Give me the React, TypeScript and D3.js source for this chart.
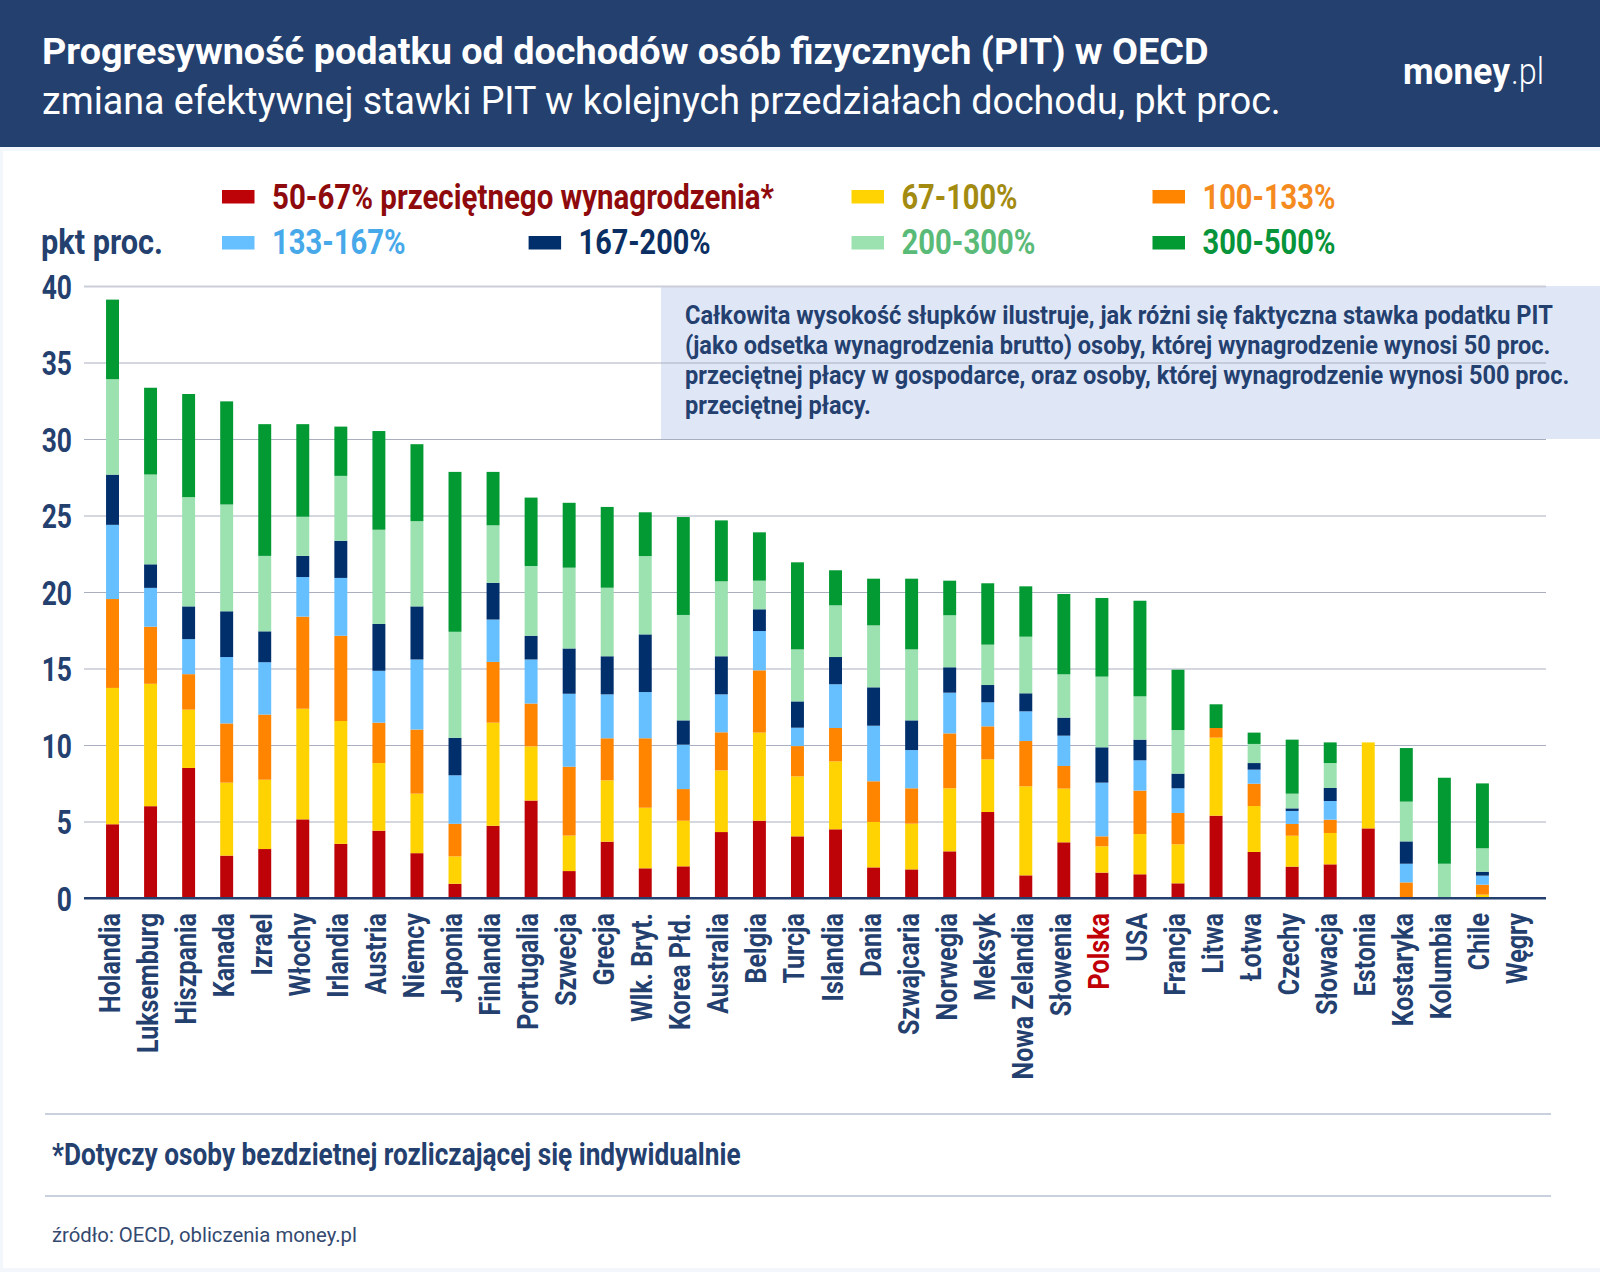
import React, { useRef, useEffect } from 'react';
import * as d3 from 'd3';

const kraje = [
  'Holandia', 'Luksemburg', 'Hiszpania', 'Kanada', 'Izrael', 'Włochy', 'Irlandia', 'Austria', 'Niemcy', 'Japonia',
  'Finlandia', 'Portugalia', 'Szwecja', 'Grecja', 'Wlk. Bryt.', 'Korea Płd.', 'Australia', 'Belgia', 'Turcja', 'Islandia',
  'Dania', 'Szwajcaria', 'Norwegia', 'Meksyk', 'Nowa Zelandia', 'Słowenia', 'Polska', 'USA', 'Francja', 'Litwa',
  'Łotwa', 'Czechy', 'Słowacja', 'Estonia', 'Kostaryka', 'Kolumbia', 'Chile', 'Węgry',
];

const s50_67 = [4.82, 6.0, 8.5, 2.77, 3.2, 5.14, 3.54, 4.4, 2.93, 0.93, 4.72, 6.37, 1.76, 3.68, 1.94, 2.07, 4.31, 5.05, 4.03, 4.49, 2.0, 1.87, 3.05, 5.62, 1.48, 3.64, 1.66, 1.55, 0.96, 5.38, 3.01, 2.05, 2.2, 4.55, 0, 0, 0, 0];
const s67_100 = [8.91, 8.0, 3.81, 4.77, 4.53, 7.23, 8.03, 4.42, 3.89, 1.79, 6.74, 3.54, 2.32, 4.01, 3.96, 2.98, 4.03, 5.76, 3.92, 4.44, 2.97, 2.99, 4.12, 3.44, 5.82, 3.51, 1.72, 2.63, 2.55, 5.1, 3.0, 2.02, 2.05, 5.62, 0, 0, 0.22, 0];
const s100_133 = [5.81, 3.73, 2.32, 3.87, 4.26, 6.02, 5.57, 2.64, 4.19, 2.13, 3.97, 2.8, 4.5, 2.75, 4.54, 2.07, 2.49, 4.07, 1.98, 2.18, 2.66, 2.31, 3.59, 2.16, 2.96, 1.48, 0.65, 2.84, 2.05, 0.63, 1.46, 0.77, 0.87, 0, 1.02, 0, 0.65, 0];
const s133_167 = [4.85, 2.54, 2.29, 4.34, 3.42, 2.59, 3.78, 3.39, 4.58, 3.17, 2.77, 2.88, 4.77, 2.87, 3.02, 2.9, 2.48, 2.57, 1.2, 2.86, 3.63, 2.5, 2.66, 1.57, 1.94, 1.98, 3.51, 1.98, 1.61, 0, 0.92, 0.85, 1.22, 0, 1.22, 0, 0.59, 0];
const s167_200 = [3.28, 1.54, 2.14, 2.99, 2.02, 1.38, 2.43, 3.06, 3.47, 2.45, 2.4, 1.55, 2.96, 2.49, 3.77, 1.59, 2.49, 1.42, 1.72, 1.78, 2.51, 1.94, 1.66, 1.13, 1.18, 1.18, 2.31, 1.35, 0.96, 0, 0.43, 0.17, 0.85, 0, 1.46, 0, 0.26, 0];
const s200_300 = [6.24, 5.87, 7.14, 6.98, 4.93, 2.56, 4.24, 6.16, 5.57, 6.93, 3.76, 4.56, 5.28, 4.48, 5.12, 6.89, 4.9, 1.87, 3.4, 3.38, 4.05, 4.64, 3.4, 2.64, 3.7, 2.83, 4.62, 2.83, 2.85, 0, 1.25, 0.96, 1.63, 0, 2.6, 2.24, 1.53, 0];
const s300_500 = [5.2, 5.67, 6.74, 6.74, 8.61, 6.05, 3.22, 6.45, 5.03, 10.45, 3.49, 4.47, 4.24, 5.28, 2.86, 6.4, 3.98, 3.16, 5.69, 2.29, 3.05, 4.62, 2.26, 4.01, 3.29, 5.25, 5.14, 6.25, 3.94, 1.55, 0.74, 3.53, 1.35, 0, 3.5, 5.62, 4.24, 0];

const serie = [s50_67, s67_100, s100_133, s133_167, s167_200, s200_300, s300_500];
const przedzialy = ['50-67% przeciętnego wynagrodzenia*', '67-100%', '100-133%', '133-167%', '167-200%', '200-300%', '300-500%'];
const kolory = ['#BD0308', '#FFD302', '#FF8500', '#66BFFF', '#002F6C', '#9CE1B0', '#039933'];
const koloryTekstu = ['#8E0A0C', '#A38B12', '#F58A1F', '#47A9EA', '#0B2F63', '#5ABA78', '#07943A'];
const ticki = [0, 5, 10, 15, 20, 25, 30, 35, 40];

const GRANAT = '#24406F';

type Sel = d3.Selection<SVGSVGElement, unknown, null, undefined>;

// Roboto Condensed nie jest dostępny, więc ściskamy zwykłe Roboto w poziomie do zadanej szerokości
const dodajTekst = (svg: Sel, x: number, y: number, tekst: string, size: number, weight: number, fill: string, szerokosc: number) => {
  const t = svg.append('text')
    .attr('fill', fill)
    .style('font-family', 'Roboto')
    .style('font-size', `${size}px`)
    .style('font-weight', weight)
    .text(tekst);
  const k = szerokosc / (t.node() as SVGTextElement).getComputedTextLength();
  t.attr('transform', `translate(${x},${y}) scale(${k},1)`);
};

const App: React.FC = () => {
  const svgRef = useRef<SVGSVGElement | null>(null);

  useEffect(() => {
    if (!svgRef.current) return;
    const svg = d3.select<SVGSVGElement, unknown>(svgRef.current);
    svg.selectAll('*').remove();

    const x = d3.scaleBand<string>().domain(kraje).range([85.5, 1547.5]).paddingInner(0.66).paddingOuter(0.54);
    const y = d3.scaleLinear().domain([0, 40]).range([898, 286]);

    svg.append('rect').attr('width', 1600).attr('height', 1272).attr('fill', '#F3F6FA');
    svg.append('rect').attr('x', 3).attr('y', 151).attr('width', 1597).attr('height', 1117).attr('fill', '#fff');
    svg.append('rect').attr('width', 1600).attr('height', 147).attr('fill', '#23406F');

    dodajTekst(svg, 42, 64, 'Progresywność podatku od dochodów osób fizycznych (PIT) w OECD', 37, 700, '#fff', 1167);
    dodajTekst(svg, 42, 114, 'zmiana efektywnej stawki PIT w kolejnych przedziałach dochodu, pkt proc.', 38, 400, '#fff', 1239);
    dodajTekst(svg, 1403, 84, 'money', 37, 700, '#fff', 107);
    dodajTekst(svg, 1511, 84, '.pl', 37, 300, '#fff', 33);

    // legenda w dwoch wierszach
    const legendaX = [222, 851.5, 1152.5, 222, 528.6, 851.5, 1152.5];
    const legendaW = [502, 116, 133, 133.6, 132, 134, 133];
    przedzialy.forEach((p, i) => {
      const wiersz = i < 3 ? 0 : 1;
      svg.append('rect')
        .attr('x', legendaX[i]).attr('y', 190 + wiersz * 46)
        .attr('width', 32.5).attr('height', 13.5)
        .attr('fill', kolory[i]);
      dodajTekst(svg, legendaX[i] + 50, 209 + wiersz * 45, p, 35, 700, koloryTekstu[i], legendaW[i]);
    });
    dodajTekst(svg, 41, 254, 'pkt proc.', 35, 700, GRANAT, 122);

    // ramka z opisem, siatka idzie po niej
    svg.append('rect').attr('x', 661).attr('y', 286).attr('width', 939).attr('height', 153).attr('fill', '#DFE7F7');

    const osY = svg.append('g')
      .attr('transform', 'translate(84,0)')
      .call(d3.axisLeft(y).tickValues(ticki).tickSize(-1462).tickPadding(0));
    osY.select('.domain').remove();
    osY.selectAll<SVGLineElement, number>('line')
      .attr('stroke', (d) => (d === 40 ? '#C9CEDA' : d === 0 ? GRANAT : '#A9AFBE'))
      .attr('stroke-width', (d) => (d === 40 || d === 0 ? 2 : 1));
    osY.selectAll<SVGTextElement, number>('text')
      .attr('x', -12 / 0.8)
      .attr('y', 1.5)
      .attr('transform', 'scale(0.8,1)')
      .attr('fill', GRANAT)
      .style('font-family', 'Roboto')
      .style('font-size', '33px')
      .style('font-weight', 700);

    const wiersze = kraje.map((kraj, i) => {
      const w: Record<string, number | string> = { kraj };
      przedzialy.forEach((p, j) => { w[p] = serie[j][i]; });
      return w;
    });
    const stos = d3.stack<Record<string, number | string>>().keys(przedzialy)(wiersze as any);

    svg.append('g').selectAll('g')
      .data(stos)
      .enter().append('g')
      .attr('fill', (d, i) => kolory[i])
      .selectAll('rect')
      .data((d) => d)
      .enter().append('rect')
      .attr('x', (d) => x(d.data.kraj as string) as number)
      .attr('y', (d) => y(d[1]))
      .attr('width', x.bandwidth())
      .attr('height', (d) => y(d[0]) - y(d[1]));

    // linia zero nad slupkami
    svg.append('line').attr('x1', 84).attr('x2', 1546).attr('y1', y(0)).attr('y2', y(0)).attr('stroke', GRANAT).attr('stroke-width', 2);

    const osX = svg.append('g')
      .attr('transform', 'translate(0,898)')
      .call(d3.axisBottom(x).tickSize(0));
    osX.select('.domain').remove();
    osX.selectAll<SVGTextElement, string>('text')
      .attr('transform', 'translate(7,15) rotate(-90) scale(0.835,1)')
      .attr('x', 0)
      .attr('y', 0)
      .attr('dy', 0)
      .attr('text-anchor', 'end')
      .attr('fill', (d) => (d === 'Polska' ? '#C00006' : GRANAT))
      .style('font-family', 'Roboto')
      .style('font-size', '30px')
      .style('font-weight', 700);

    dodajTekst(svg, 685, 324, 'Całkowita wysokość słupków ilustruje, jak różni się faktyczna stawka podatku PIT', 26, 700, GRANAT, 868);
    dodajTekst(svg, 685, 354, '(jako odsetka wynagrodzenia brutto) osoby, której wynagrodzenie wynosi 50 proc.', 26, 700, GRANAT, 866);
    dodajTekst(svg, 685, 384, 'przeciętnej płacy w gospodarce, oraz osoby, której wynagrodzenie wynosi 500 proc.', 26, 700, GRANAT, 885);
    dodajTekst(svg, 685, 414, 'przeciętnej płacy.', 26, 700, GRANAT, 186);

    svg.append('line').attr('x1', 45).attr('x2', 1551).attr('y1', 1114).attr('y2', 1114).attr('stroke', '#C9D0DE').attr('stroke-width', 2);
    svg.append('line').attr('x1', 45).attr('x2', 1551).attr('y1', 1196).attr('y2', 1196).attr('stroke', '#C9D0DE').attr('stroke-width', 2);
    dodajTekst(svg, 52, 1165, '*Dotyczy osoby bezdzietnej rozliczającej się indywidualnie', 31, 700, GRANAT, 689);
    dodajTekst(svg, 52, 1242, 'źródło: OECD, obliczenia money.pl', 20, 400, '#33496F', 305);
  }, []);

  return (
    <svg ref={svgRef} width={1600} height={1272} style={{ position: 'absolute', left: 0, top: 0, display: 'block' }} />
  );
};

export default App;
